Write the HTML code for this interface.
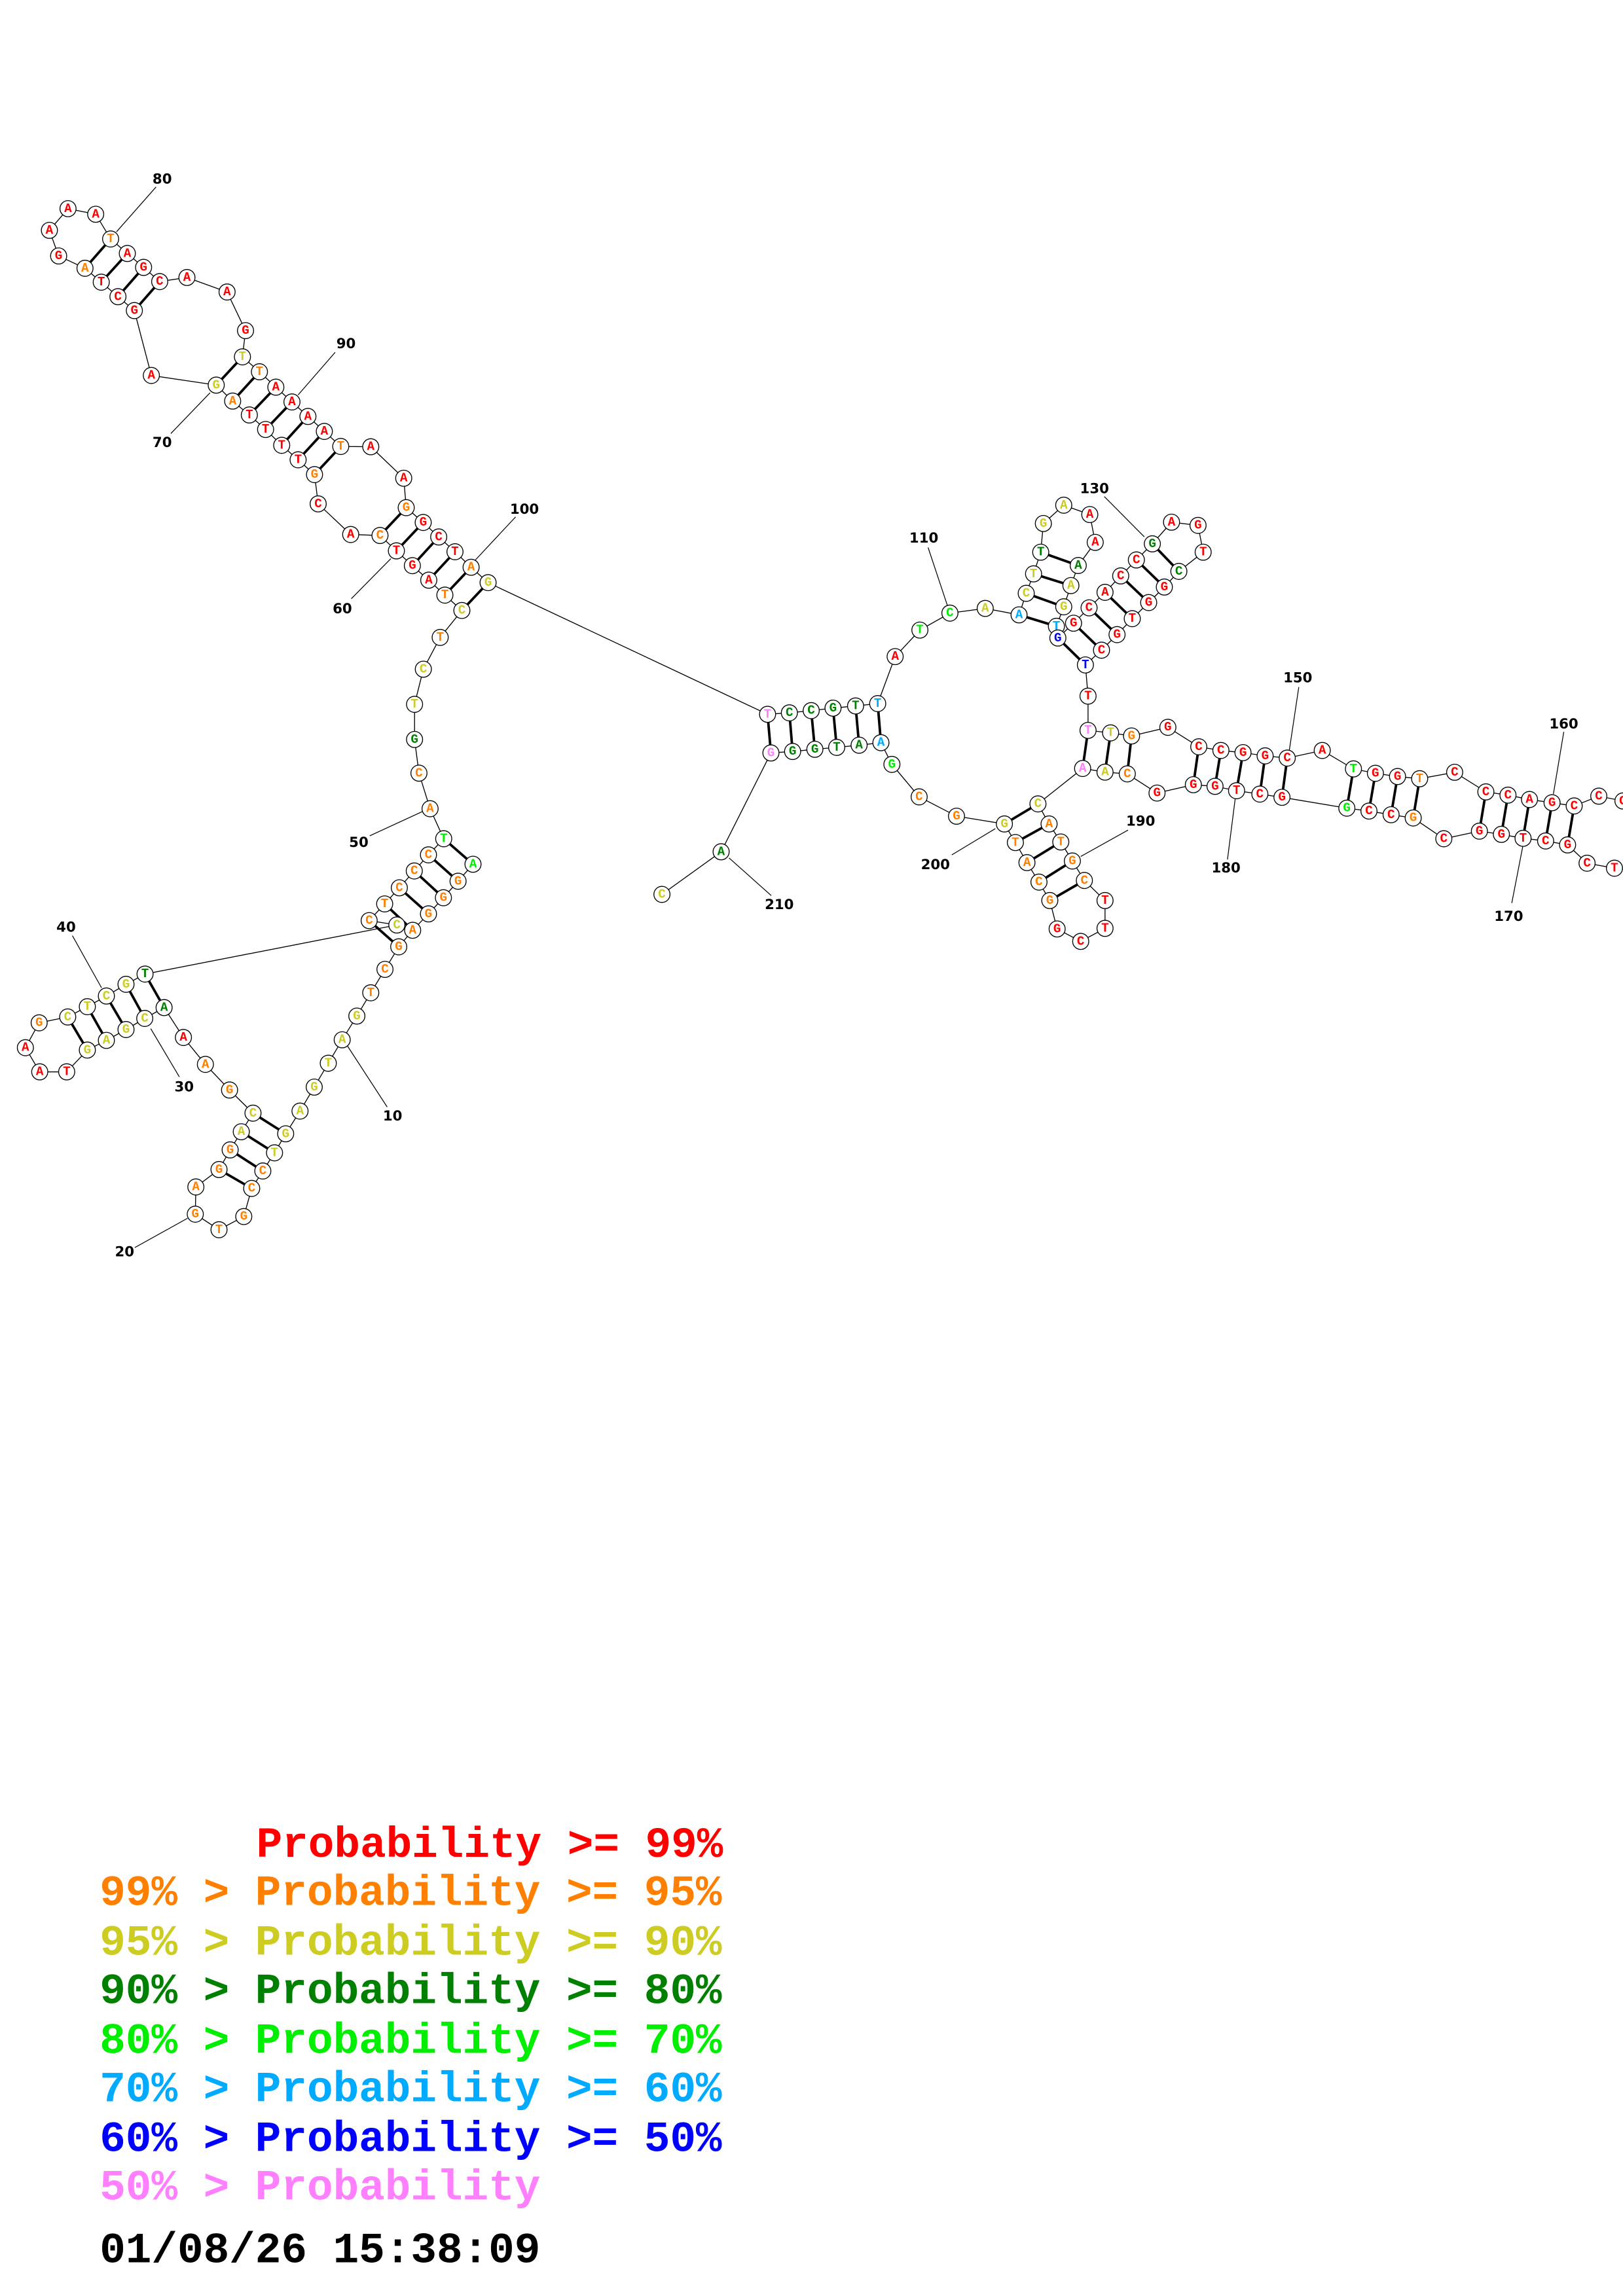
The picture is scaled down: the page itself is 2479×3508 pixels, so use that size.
<!DOCTYPE html>
<html><head><meta charset="utf-8"><style>
html,body{margin:0;padding:0;background:#fff}
svg{display:block}
.bb{fill:none;stroke:#000;stroke-width:0.6}
.pr{stroke:#000;stroke-width:1.7}
.ln{stroke:#000;stroke-width:0.55}
circle{fill:#fff;stroke:#000;stroke-width:0.6}
.n text{font-family:"Liberation Mono","DejaVu Sans Mono",monospace;font-weight:bold;font-size:8.6px;text-anchor:middle;dominant-baseline:central}
.lb{font-family:"DejaVu Sans","Liberation Sans",sans-serif;font-weight:bold;font-size:9.5px;text-anchor:middle;dominant-baseline:central}
.r{fill:#ff0000}.o{fill:#ff8000}.y{fill:#cccc22}.d{fill:#008000}.g{fill:#00ee00}.c{fill:#00aaff}.b{fill:#0000ff}.p{fill:#ff80ff}
.lg{font-family:"Liberation Mono","DejaVu Sans Mono",monospace;font-weight:bold;font-size:29.5px}
</style></head><body>
<svg width="2479" height="3508" viewBox="0 0 1108 1568" xmlns="http://www.w3.org/2000/svg">
<polyline class="bb" points="322.9,590.2 312.7,601.8 302.7,613.1 292.5,624.1 281.7,635.3 272.2,646.6 262.8,662 253.1,678 243.6,693.9 233.6,710.1 224.1,726.1 214.5,742.4 204.8,758.8 195,774.3 187.4,787.3 179.4,799.7 171.8,811.6 166.4,830.8 149.5,839.8 133.3,829.2 133.7,810.6 149.5,798.7 157.1,785.3 164.7,772.9 172.7,760.2 156.7,744.4 140.2,726.9 125.2,708.5 112,688.1 98.8,695.5 86,703.1 72.6,710.5 59.6,717.1 45.5,732 27.1,732 17.3,715.5 26.7,698.5 46.2,694.5 59.6,687.5 72.6,680.2 86,672.2 99,665.2 270.9,631.7 252,628.7 262.6,617.3 272.6,606.3 282.8,594.8 292.5,583.8 302.9,572.8 293.6,552.3 286,528 283,505 283,481 289,457 300.5,435.3 315.3,416.9 303.7,406.4 292.7,396.2 281.5,386.3 270.6,376.2 259.4,365.7 239.4,365 217.2,344.1 214.7,324.1 203.5,314 192.3,304.1 181.3,293.3 170.2,283.4 158.8,273.9 147.6,263 103.3,256.4 91.7,212.1 80.5,202.6 69.1,192.7 58,183.2 40,174.8 33.7,157.3 46.4,142.5 65.3,146.3 75.5,163.2 86.9,173.1 98,182.6 109,192.3 127.6,189.5 155,199.4 167.6,225.8 165.5,243.7 177.1,253.9 188.3,264.4 199.3,274.5 210.2,284.4 221.4,294.6 232.6,304.9 253.1,305.1 275.6,326.6 277.3,346.7 288.9,356.8 299.5,366.7 310.6,376.8 321.6,387.4 333.2,397.9 524,487.8 538.9,486.8 553.8,485.3 568.7,483.6 584.1,482.1 599.2,480.5 611.1,448.4 628,430.3 648.5,418.7 672.6,415.5 695.7,419.9 700.6,405.2 705.6,391.9 710.5,377.1 712.3,357.5 726.2,345 744,351.4 747.7,370.4 736.1,386.2 731.1,399.9 726.2,414.4 721.2,427.7 722.2,435.7 732.9,425.6 743.5,415.1 754.4,404.5 765.1,393.3 775.8,382.4 786.7,371.4 799.8,356.6 817.9,358.8 821.4,377.1 804.8,390.2 794.9,400.9 784.2,411.5 773,422.5 762.6,433.4 752,444 741,454.1 742.8,475.4 742.8,498.8 758.2,500.5 772.5,502.6 797.3,496.7 818.4,510 833.5,512.5 848.6,514 863.7,516.2 878.8,517.7 902.7,512.5 924,525.1 939,528.1 954.1,530.3 969.2,531.8 993.1,527.4 1014.4,540.8 1029.5,543 1044.2,546 1059.6,548.2 1074.7,550.4 1091.5,543.7 1108,547 1130,550 1130,596 1102.2,592.9 1083.5,589.5 1070.2,577 1055.2,574.3 1039.8,572.5 1025,569.8 1010,567.6 985.7,572.8 964.8,558.6 949.7,556.4 934.6,553.9 919.5,551.9 875.2,544.5 860.1,542.3 844.2,540 829.5,537 814.7,535.9 789.9,541.6 769.6,528.5 754.4,527.3 739.1,524.8 708.6,549 716.2,562.7 724.2,575 732.1,588 740.3,601.3 754.4,615 754.4,634 737.8,642.9 721.7,634.4 716.7,615 709.3,602.4 701.1,589.1 693.2,575.4 685.7,562.7 653,557.4 627.5,544.2 608.9,522 601.4,507.2 586.5,508.9 571.2,510.4 556.3,511.7 541.1,513.2 526.3,514.2 492.3,581.7 451.9,610.8"/>
<g class="pr">
<line x1="302.9" y1="572.8" x2="322.9" y2="590.2"/><line x1="292.5" y1="583.8" x2="312.7" y2="601.8"/><line x1="282.8" y1="594.8" x2="302.7" y2="613.1"/><line x1="272.6" y1="606.3" x2="292.5" y2="624.1"/><line x1="262.6" y1="617.3" x2="281.7" y2="635.3"/><line x1="252" y1="628.7" x2="272.2" y2="646.6"/>
<line x1="172.7" y1="760.2" x2="195" y2="774.3"/><line x1="164.7" y1="772.9" x2="187.4" y2="787.3"/><line x1="157.1" y1="785.3" x2="179.4" y2="799.7"/><line x1="149.5" y1="798.7" x2="171.8" y2="811.6"/>
<line x1="99" y1="665.2" x2="112" y2="688.1"/><line x1="86" y1="672.2" x2="98.8" y2="695.5"/><line x1="72.6" y1="680.2" x2="86" y2="703.1"/><line x1="59.6" y1="687.5" x2="72.6" y2="710.5"/><line x1="46.2" y1="694.5" x2="59.6" y2="717.1"/>
<line x1="75.5" y1="163.2" x2="58" y2="183.2"/><line x1="86.9" y1="173.1" x2="69.1" y2="192.7"/><line x1="98" y1="182.6" x2="80.5" y2="202.6"/><line x1="109" y1="192.3" x2="91.7" y2="212.1"/>
<line x1="165.5" y1="243.7" x2="147.6" y2="263"/><line x1="177.1" y1="253.9" x2="158.8" y2="273.9"/><line x1="188.3" y1="264.4" x2="170.2" y2="283.4"/><line x1="199.3" y1="274.5" x2="181.3" y2="293.3"/><line x1="210.2" y1="284.4" x2="192.3" y2="304.1"/><line x1="221.4" y1="294.6" x2="203.5" y2="314"/><line x1="232.6" y1="304.9" x2="214.7" y2="324.1"/>
<line x1="277.3" y1="346.7" x2="259.4" y2="365.7"/><line x1="288.9" y1="356.8" x2="270.6" y2="376.2"/><line x1="299.5" y1="366.7" x2="281.5" y2="386.3"/><line x1="310.6" y1="376.8" x2="292.7" y2="396.2"/><line x1="321.6" y1="387.4" x2="303.7" y2="406.4"/><line x1="333.2" y1="397.9" x2="315.3" y2="416.9"/>
<line x1="524" y1="487.8" x2="526.3" y2="514.2"/><line x1="538.9" y1="486.8" x2="541.1" y2="513.2"/><line x1="553.8" y1="485.3" x2="556.3" y2="511.7"/><line x1="568.7" y1="483.6" x2="571.2" y2="510.4"/><line x1="584.1" y1="482.1" x2="586.5" y2="508.9"/><line x1="599.2" y1="480.5" x2="601.4" y2="507.2"/>
<line x1="695.7" y1="419.9" x2="721.2" y2="427.7"/><line x1="700.6" y1="405.2" x2="726.2" y2="414.4"/><line x1="705.6" y1="391.9" x2="731.1" y2="399.9"/><line x1="710.5" y1="377.1" x2="736.1" y2="386.2"/>
<line x1="722.2" y1="435.7" x2="741" y2="454.1"/><line x1="732.9" y1="425.6" x2="752" y2="444"/><line x1="743.5" y1="415.1" x2="762.6" y2="433.4"/><line x1="754.4" y1="404.5" x2="773" y2="422.5"/><line x1="765.1" y1="393.3" x2="784.2" y2="411.5"/><line x1="775.8" y1="382.4" x2="794.9" y2="400.9"/><line x1="786.7" y1="371.4" x2="804.8" y2="390.2"/>
<line x1="742.8" y1="498.8" x2="739.1" y2="524.8"/><line x1="758.2" y1="500.5" x2="754.4" y2="527.3"/><line x1="772.5" y1="502.6" x2="769.6" y2="528.5"/>
<line x1="818.4" y1="510" x2="814.7" y2="535.9"/><line x1="833.5" y1="512.5" x2="829.5" y2="537"/><line x1="848.6" y1="514" x2="844.2" y2="540"/><line x1="863.7" y1="516.2" x2="860.1" y2="542.3"/><line x1="878.8" y1="517.7" x2="875.2" y2="544.5"/>
<line x1="924" y1="525.1" x2="919.5" y2="551.9"/><line x1="939" y1="528.1" x2="934.6" y2="553.9"/><line x1="954.1" y1="530.3" x2="949.7" y2="556.4"/><line x1="969.2" y1="531.8" x2="964.8" y2="558.6"/>
<line x1="1014.4" y1="540.8" x2="1010" y2="567.6"/><line x1="1029.5" y1="543" x2="1025" y2="569.8"/><line x1="1044.2" y1="546" x2="1039.8" y2="572.5"/><line x1="1059.6" y1="548.2" x2="1055.2" y2="574.3"/><line x1="1074.7" y1="550.4" x2="1070.2" y2="577"/>
<line x1="708.6" y1="549" x2="685.7" y2="562.7"/><line x1="716.2" y1="562.7" x2="693.2" y2="575.4"/><line x1="724.2" y1="575" x2="701.1" y2="589.1"/><line x1="732.1" y1="588" x2="709.3" y2="602.4"/><line x1="740.3" y1="601.3" x2="716.7" y2="615"/>
</g>
<g class="ln">
<line x1="264.3" y1="756" x2="237.3" y2="714.5"/><line x1="92" y1="852" x2="128" y2="832"/><line x1="122.4" y1="735.4" x2="102.9" y2="702.5"/><line x1="49.4" y1="639" x2="69.3" y2="674.6"/><line x1="252.4" y1="570.8" x2="288.2" y2="554.3"/><line x1="239.8" y1="408.9" x2="266.8" y2="381.5"/><line x1="116.6" y1="296.1" x2="143.4" y2="268.2"/><line x1="106.5" y1="127.7" x2="79.5" y2="158.3"/><line x1="228.8" y1="240.6" x2="203.5" y2="269.7"/><line x1="352" y1="353" x2="324" y2="383"/><line x1="633.6" y1="373.9" x2="646.8" y2="413.6"/><line x1="753.9" y1="339.1" x2="781.2" y2="366.6"/><line x1="886.7" y1="469.2" x2="880.2" y2="512.5"/><line x1="1067.6" y1="499.8" x2="1060.5" y2="542.3"/><line x1="1032.1" y1="616.7" x2="1039.8" y2="577"/><line x1="843.3" y1="545.2" x2="838" y2="587"/><line x1="770.1" y1="566.9" x2="737.8" y2="584.9"/><line x1="649.8" y1="583.8" x2="679.5" y2="565.9"/><line x1="526.5" y1="611.6" x2="497.7" y2="585.9"/>
</g>
<g class="lb">
<text x="268" y="762.4">10</text><text x="85" y="855">20</text><text x="125.7" y="742.4">30</text><text x="45.1" y="633.3">40</text><text x="244.9" y="575.4">50</text><text x="233.7" y="415.9">60</text><text x="110.7" y="302.4">70</text><text x="110.7" y="122.5">80</text><text x="236.2" y="234.9">90</text><text x="358" y="348">100</text><text x="630.7" y="367.6">110</text><text x="747.2" y="333.9">130</text><text x="886" y="463">150</text><text x="1067.6" y="494.6">160</text><text x="1030" y="626">170</text><text x="837" y="593">180</text><text x="778.7" y="561">190</text><text x="638.6" y="590.6">200</text><text x="532" y="618">210</text>
</g>
<g class="n">
<circle cx="322.9" cy="590.2" r="5.5"/><text x="322.9" y="590.2" class="g">A</text>
<circle cx="312.7" cy="601.8" r="5.5"/><text x="312.7" y="601.8" class="o">G</text>
<circle cx="302.7" cy="613.1" r="5.5"/><text x="302.7" y="613.1" class="o">G</text>
<circle cx="292.5" cy="624.1" r="5.5"/><text x="292.5" y="624.1" class="o">G</text>
<circle cx="281.7" cy="635.3" r="5.5"/><text x="281.7" y="635.3" class="o">A</text>
<circle cx="272.2" cy="646.6" r="5.5"/><text x="272.2" y="646.6" class="o">G</text>
<circle cx="262.8" cy="662" r="5.5"/><text x="262.8" y="662" class="o">C</text>
<circle cx="253.1" cy="678" r="5.5"/><text x="253.1" y="678" class="o">T</text>
<circle cx="243.6" cy="693.9" r="5.5"/><text x="243.6" y="693.9" class="y">G</text>
<circle cx="233.6" cy="710.1" r="5.5"/><text x="233.6" y="710.1" class="y">A</text>
<circle cx="224.1" cy="726.1" r="5.5"/><text x="224.1" y="726.1" class="y">T</text>
<circle cx="214.5" cy="742.4" r="5.5"/><text x="214.5" y="742.4" class="y">G</text>
<circle cx="204.8" cy="758.8" r="5.5"/><text x="204.8" y="758.8" class="y">A</text>
<circle cx="195" cy="774.3" r="5.5"/><text x="195" y="774.3" class="y">G</text>
<circle cx="187.4" cy="787.3" r="5.5"/><text x="187.4" y="787.3" class="y">T</text>
<circle cx="179.4" cy="799.7" r="5.5"/><text x="179.4" y="799.7" class="o">C</text>
<circle cx="171.8" cy="811.6" r="5.5"/><text x="171.8" y="811.6" class="o">C</text>
<circle cx="166.4" cy="830.8" r="5.5"/><text x="166.4" y="830.8" class="o">G</text>
<circle cx="149.5" cy="839.8" r="5.5"/><text x="149.5" y="839.8" class="o">T</text>
<circle cx="133.3" cy="829.2" r="5.5"/><text x="133.3" y="829.2" class="o">G</text>
<circle cx="133.7" cy="810.6" r="5.5"/><text x="133.7" y="810.6" class="o">A</text>
<circle cx="149.5" cy="798.7" r="5.5"/><text x="149.5" y="798.7" class="o">G</text>
<circle cx="157.1" cy="785.3" r="5.5"/><text x="157.1" y="785.3" class="o">G</text>
<circle cx="164.7" cy="772.9" r="5.5"/><text x="164.7" y="772.9" class="y">A</text>
<circle cx="172.7" cy="760.2" r="5.5"/><text x="172.7" y="760.2" class="y">C</text>
<circle cx="156.7" cy="744.4" r="5.5"/><text x="156.7" y="744.4" class="o">G</text>
<circle cx="140.2" cy="726.9" r="5.5"/><text x="140.2" y="726.9" class="o">A</text>
<circle cx="125.2" cy="708.5" r="5.5"/><text x="125.2" y="708.5" class="r">A</text>
<circle cx="112" cy="688.1" r="5.5"/><text x="112" y="688.1" class="d">A</text>
<circle cx="98.8" cy="695.5" r="5.5"/><text x="98.8" y="695.5" class="y">C</text>
<circle cx="86" cy="703.1" r="5.5"/><text x="86" y="703.1" class="y">G</text>
<circle cx="72.6" cy="710.5" r="5.5"/><text x="72.6" y="710.5" class="y">A</text>
<circle cx="59.6" cy="717.1" r="5.5"/><text x="59.6" y="717.1" class="y">G</text>
<circle cx="45.5" cy="732" r="5.5"/><text x="45.5" y="732" class="r">T</text>
<circle cx="27.1" cy="732" r="5.5"/><text x="27.1" y="732" class="r">A</text>
<circle cx="17.3" cy="715.5" r="5.5"/><text x="17.3" y="715.5" class="r">A</text>
<circle cx="26.7" cy="698.5" r="5.5"/><text x="26.7" y="698.5" class="o">G</text>
<circle cx="46.2" cy="694.5" r="5.5"/><text x="46.2" y="694.5" class="y">C</text>
<circle cx="59.6" cy="687.5" r="5.5"/><text x="59.6" y="687.5" class="y">T</text>
<circle cx="72.6" cy="680.2" r="5.5"/><text x="72.6" y="680.2" class="y">C</text>
<circle cx="86" cy="672.2" r="5.5"/><text x="86" y="672.2" class="y">G</text>
<circle cx="99" cy="665.2" r="5.5"/><text x="99" y="665.2" class="d">T</text>
<circle cx="270.9" cy="631.7" r="5.5"/><text x="270.9" y="631.7" class="y">C</text>
<circle cx="252" cy="628.7" r="5.5"/><text x="252" y="628.7" class="o">C</text>
<circle cx="262.6" cy="617.3" r="5.5"/><text x="262.6" y="617.3" class="o">T</text>
<circle cx="272.6" cy="606.3" r="5.5"/><text x="272.6" y="606.3" class="o">C</text>
<circle cx="282.8" cy="594.8" r="5.5"/><text x="282.8" y="594.8" class="o">C</text>
<circle cx="292.5" cy="583.8" r="5.5"/><text x="292.5" y="583.8" class="o">C</text>
<circle cx="302.9" cy="572.8" r="5.5"/><text x="302.9" y="572.8" class="g">T</text>
<circle cx="293.6" cy="552.3" r="5.5"/><text x="293.6" y="552.3" class="o">A</text>
<circle cx="286" cy="528" r="5.5"/><text x="286" y="528" class="o">C</text>
<circle cx="283" cy="505" r="5.5"/><text x="283" y="505" class="d">G</text>
<circle cx="283" cy="481" r="5.5"/><text x="283" y="481" class="y">T</text>
<circle cx="289" cy="457" r="5.5"/><text x="289" y="457" class="y">C</text>
<circle cx="300.5" cy="435.3" r="5.5"/><text x="300.5" y="435.3" class="o">T</text>
<circle cx="315.3" cy="416.9" r="5.5"/><text x="315.3" y="416.9" class="y">C</text>
<circle cx="303.7" cy="406.4" r="5.5"/><text x="303.7" y="406.4" class="o">T</text>
<circle cx="292.7" cy="396.2" r="5.5"/><text x="292.7" y="396.2" class="r">A</text>
<circle cx="281.5" cy="386.3" r="5.5"/><text x="281.5" y="386.3" class="r">G</text>
<circle cx="270.6" cy="376.2" r="5.5"/><text x="270.6" y="376.2" class="r">T</text>
<circle cx="259.4" cy="365.7" r="5.5"/><text x="259.4" y="365.7" class="o">C</text>
<circle cx="239.4" cy="365" r="5.5"/><text x="239.4" y="365" class="r">A</text>
<circle cx="217.2" cy="344.1" r="5.5"/><text x="217.2" y="344.1" class="r">C</text>
<circle cx="214.7" cy="324.1" r="5.5"/><text x="214.7" y="324.1" class="o">G</text>
<circle cx="203.5" cy="314" r="5.5"/><text x="203.5" y="314" class="r">T</text>
<circle cx="192.3" cy="304.1" r="5.5"/><text x="192.3" y="304.1" class="r">T</text>
<circle cx="181.3" cy="293.3" r="5.5"/><text x="181.3" y="293.3" class="r">T</text>
<circle cx="170.2" cy="283.4" r="5.5"/><text x="170.2" y="283.4" class="r">T</text>
<circle cx="158.8" cy="273.9" r="5.5"/><text x="158.8" y="273.9" class="o">A</text>
<circle cx="147.6" cy="263" r="5.5"/><text x="147.6" y="263" class="y">G</text>
<circle cx="103.3" cy="256.4" r="5.5"/><text x="103.3" y="256.4" class="r">A</text>
<circle cx="91.7" cy="212.1" r="5.5"/><text x="91.7" y="212.1" class="r">G</text>
<circle cx="80.5" cy="202.6" r="5.5"/><text x="80.5" y="202.6" class="r">C</text>
<circle cx="69.1" cy="192.7" r="5.5"/><text x="69.1" y="192.7" class="r">T</text>
<circle cx="58" cy="183.2" r="5.5"/><text x="58" y="183.2" class="o">A</text>
<circle cx="40" cy="174.8" r="5.5"/><text x="40" y="174.8" class="r">G</text>
<circle cx="33.7" cy="157.3" r="5.5"/><text x="33.7" y="157.3" class="r">A</text>
<circle cx="46.4" cy="142.5" r="5.5"/><text x="46.4" y="142.5" class="r">A</text>
<circle cx="65.3" cy="146.3" r="5.5"/><text x="65.3" y="146.3" class="r">A</text>
<circle cx="75.5" cy="163.2" r="5.5"/><text x="75.5" y="163.2" class="o">T</text>
<circle cx="86.9" cy="173.1" r="5.5"/><text x="86.9" y="173.1" class="r">A</text>
<circle cx="98" cy="182.6" r="5.5"/><text x="98" y="182.6" class="r">G</text>
<circle cx="109" cy="192.3" r="5.5"/><text x="109" y="192.3" class="r">C</text>
<circle cx="127.6" cy="189.5" r="5.5"/><text x="127.6" y="189.5" class="r">A</text>
<circle cx="155" cy="199.4" r="5.5"/><text x="155" y="199.4" class="r">A</text>
<circle cx="167.6" cy="225.8" r="5.5"/><text x="167.6" y="225.8" class="r">G</text>
<circle cx="165.5" cy="243.7" r="5.5"/><text x="165.5" y="243.7" class="y">T</text>
<circle cx="177.1" cy="253.9" r="5.5"/><text x="177.1" y="253.9" class="o">T</text>
<circle cx="188.3" cy="264.4" r="5.5"/><text x="188.3" y="264.4" class="r">A</text>
<circle cx="199.3" cy="274.5" r="5.5"/><text x="199.3" y="274.5" class="r">A</text>
<circle cx="210.2" cy="284.4" r="5.5"/><text x="210.2" y="284.4" class="r">A</text>
<circle cx="221.4" cy="294.6" r="5.5"/><text x="221.4" y="294.6" class="r">A</text>
<circle cx="232.6" cy="304.9" r="5.5"/><text x="232.6" y="304.9" class="o">T</text>
<circle cx="253.1" cy="305.1" r="5.5"/><text x="253.1" y="305.1" class="r">A</text>
<circle cx="275.6" cy="326.6" r="5.5"/><text x="275.6" y="326.6" class="r">A</text>
<circle cx="277.3" cy="346.7" r="5.5"/><text x="277.3" y="346.7" class="o">G</text>
<circle cx="288.9" cy="356.8" r="5.5"/><text x="288.9" y="356.8" class="r">G</text>
<circle cx="299.5" cy="366.7" r="5.5"/><text x="299.5" y="366.7" class="r">C</text>
<circle cx="310.6" cy="376.8" r="5.5"/><text x="310.6" y="376.8" class="r">T</text>
<circle cx="321.6" cy="387.4" r="5.5"/><text x="321.6" y="387.4" class="o">A</text>
<circle cx="333.2" cy="397.9" r="5.5"/><text x="333.2" y="397.9" class="y">G</text>
<circle cx="524" cy="487.8" r="5.5"/><text x="524" y="487.8" class="p">T</text>
<circle cx="538.9" cy="486.8" r="5.5"/><text x="538.9" y="486.8" class="d">C</text>
<circle cx="553.8" cy="485.3" r="5.5"/><text x="553.8" y="485.3" class="d">C</text>
<circle cx="568.7" cy="483.6" r="5.5"/><text x="568.7" y="483.6" class="d">G</text>
<circle cx="584.1" cy="482.1" r="5.5"/><text x="584.1" y="482.1" class="d">T</text>
<circle cx="599.2" cy="480.5" r="5.5"/><text x="599.2" y="480.5" class="c">T</text>
<circle cx="611.1" cy="448.4" r="5.5"/><text x="611.1" y="448.4" class="r">A</text>
<circle cx="628" cy="430.3" r="5.5"/><text x="628" y="430.3" class="g">T</text>
<circle cx="648.5" cy="418.7" r="5.5"/><text x="648.5" y="418.7" class="g">C</text>
<circle cx="672.6" cy="415.5" r="5.5"/><text x="672.6" y="415.5" class="y">A</text>
<circle cx="695.7" cy="419.9" r="5.5"/><text x="695.7" y="419.9" class="c">A</text>
<circle cx="700.6" cy="405.2" r="5.5"/><text x="700.6" y="405.2" class="y">C</text>
<circle cx="705.6" cy="391.9" r="5.5"/><text x="705.6" y="391.9" class="y">T</text>
<circle cx="710.5" cy="377.1" r="5.5"/><text x="710.5" y="377.1" class="d">T</text>
<circle cx="712.3" cy="357.5" r="5.5"/><text x="712.3" y="357.5" class="y">G</text>
<circle cx="726.2" cy="345" r="5.5"/><text x="726.2" y="345" class="y">A</text>
<circle cx="744" cy="351.4" r="5.5"/><text x="744" y="351.4" class="r">A</text>
<circle cx="747.7" cy="370.4" r="5.5"/><text x="747.7" y="370.4" class="r">A</text>
<circle cx="736.1" cy="386.2" r="5.5"/><text x="736.1" y="386.2" class="d">A</text>
<circle cx="731.1" cy="399.9" r="5.5"/><text x="731.1" y="399.9" class="y">A</text>
<circle cx="726.2" cy="414.4" r="5.5"/><text x="726.2" y="414.4" class="y">G</text>
<circle cx="721.2" cy="427.7" r="5.5"/><text x="721.2" y="427.7" class="c">T</text>
<circle cx="722.2" cy="435.7" r="5.5"/><text x="722.2" y="435.7" class="b">G</text>
<circle cx="732.9" cy="425.6" r="5.5"/><text x="732.9" y="425.6" class="r">G</text>
<circle cx="743.5" cy="415.1" r="5.5"/><text x="743.5" y="415.1" class="r">C</text>
<circle cx="754.4" cy="404.5" r="5.5"/><text x="754.4" y="404.5" class="r">A</text>
<circle cx="765.1" cy="393.3" r="5.5"/><text x="765.1" y="393.3" class="r">C</text>
<circle cx="775.8" cy="382.4" r="5.5"/><text x="775.8" y="382.4" class="r">C</text>
<circle cx="786.7" cy="371.4" r="5.5"/><text x="786.7" y="371.4" class="d">G</text>
<circle cx="799.8" cy="356.6" r="5.5"/><text x="799.8" y="356.6" class="r">A</text>
<circle cx="817.9" cy="358.8" r="5.5"/><text x="817.9" y="358.8" class="r">G</text>
<circle cx="821.4" cy="377.1" r="5.5"/><text x="821.4" y="377.1" class="r">T</text>
<circle cx="804.8" cy="390.2" r="5.5"/><text x="804.8" y="390.2" class="d">C</text>
<circle cx="794.9" cy="400.9" r="5.5"/><text x="794.9" y="400.9" class="r">G</text>
<circle cx="784.2" cy="411.5" r="5.5"/><text x="784.2" y="411.5" class="r">G</text>
<circle cx="773" cy="422.5" r="5.5"/><text x="773" y="422.5" class="r">T</text>
<circle cx="762.6" cy="433.4" r="5.5"/><text x="762.6" y="433.4" class="r">G</text>
<circle cx="752" cy="444" r="5.5"/><text x="752" y="444" class="r">C</text>
<circle cx="741" cy="454.1" r="5.5"/><text x="741" y="454.1" class="b">T</text>
<circle cx="742.8" cy="475.4" r="5.5"/><text x="742.8" y="475.4" class="r">T</text>
<circle cx="742.8" cy="498.8" r="5.5"/><text x="742.8" y="498.8" class="p">T</text>
<circle cx="758.2" cy="500.5" r="5.5"/><text x="758.2" y="500.5" class="y">T</text>
<circle cx="772.5" cy="502.6" r="5.5"/><text x="772.5" y="502.6" class="o">G</text>
<circle cx="797.3" cy="496.7" r="5.5"/><text x="797.3" y="496.7" class="r">G</text>
<circle cx="818.4" cy="510" r="5.5"/><text x="818.4" y="510" class="r">C</text>
<circle cx="833.5" cy="512.5" r="5.5"/><text x="833.5" y="512.5" class="r">C</text>
<circle cx="848.6" cy="514" r="5.5"/><text x="848.6" y="514" class="r">G</text>
<circle cx="863.7" cy="516.2" r="5.5"/><text x="863.7" y="516.2" class="r">G</text>
<circle cx="878.8" cy="517.7" r="5.5"/><text x="878.8" y="517.7" class="r">C</text>
<circle cx="902.7" cy="512.5" r="5.5"/><text x="902.7" y="512.5" class="r">A</text>
<circle cx="924" cy="525.1" r="5.5"/><text x="924" y="525.1" class="g">T</text>
<circle cx="939" cy="528.1" r="5.5"/><text x="939" y="528.1" class="r">G</text>
<circle cx="954.1" cy="530.3" r="5.5"/><text x="954.1" y="530.3" class="r">G</text>
<circle cx="969.2" cy="531.8" r="5.5"/><text x="969.2" y="531.8" class="o">T</text>
<circle cx="993.1" cy="527.4" r="5.5"/><text x="993.1" y="527.4" class="r">C</text>
<circle cx="1014.4" cy="540.8" r="5.5"/><text x="1014.4" y="540.8" class="r">C</text>
<circle cx="1029.5" cy="543" r="5.5"/><text x="1029.5" y="543" class="r">C</text>
<circle cx="1044.2" cy="546" r="5.5"/><text x="1044.2" y="546" class="r">A</text>
<circle cx="1059.6" cy="548.2" r="5.5"/><text x="1059.6" y="548.2" class="r">G</text>
<circle cx="1074.7" cy="550.4" r="5.5"/><text x="1074.7" y="550.4" class="r">C</text>
<circle cx="1091.5" cy="543.7" r="5.5"/><text x="1091.5" y="543.7" class="r">C</text>
<circle cx="1108" cy="547" r="5.5"/><text x="1108" y="547" class="r">C</text>
<circle cx="1102.2" cy="592.9" r="5.5"/><text x="1102.2" y="592.9" class="r">T</text>
<circle cx="1083.5" cy="589.5" r="5.5"/><text x="1083.5" y="589.5" class="r">C</text>
<circle cx="1070.2" cy="577" r="5.5"/><text x="1070.2" y="577" class="r">G</text>
<circle cx="1055.2" cy="574.3" r="5.5"/><text x="1055.2" y="574.3" class="r">C</text>
<circle cx="1039.8" cy="572.5" r="5.5"/><text x="1039.8" y="572.5" class="r">T</text>
<circle cx="1025" cy="569.8" r="5.5"/><text x="1025" y="569.8" class="r">G</text>
<circle cx="1010" cy="567.6" r="5.5"/><text x="1010" y="567.6" class="r">G</text>
<circle cx="985.7" cy="572.8" r="5.5"/><text x="985.7" y="572.8" class="r">C</text>
<circle cx="964.8" cy="558.6" r="5.5"/><text x="964.8" y="558.6" class="o">G</text>
<circle cx="949.7" cy="556.4" r="5.5"/><text x="949.7" y="556.4" class="r">C</text>
<circle cx="934.6" cy="553.9" r="5.5"/><text x="934.6" y="553.9" class="r">C</text>
<circle cx="919.5" cy="551.9" r="5.5"/><text x="919.5" y="551.9" class="g">G</text>
<circle cx="875.2" cy="544.5" r="5.5"/><text x="875.2" y="544.5" class="r">G</text>
<circle cx="860.1" cy="542.3" r="5.5"/><text x="860.1" y="542.3" class="r">C</text>
<circle cx="844.2" cy="540" r="5.5"/><text x="844.2" y="540" class="r">T</text>
<circle cx="829.5" cy="537" r="5.5"/><text x="829.5" y="537" class="r">G</text>
<circle cx="814.7" cy="535.9" r="5.5"/><text x="814.7" y="535.9" class="r">G</text>
<circle cx="789.9" cy="541.6" r="5.5"/><text x="789.9" y="541.6" class="r">G</text>
<circle cx="769.6" cy="528.5" r="5.5"/><text x="769.6" y="528.5" class="o">C</text>
<circle cx="754.4" cy="527.3" r="5.5"/><text x="754.4" y="527.3" class="y">A</text>
<circle cx="739.1" cy="524.8" r="5.5"/><text x="739.1" y="524.8" class="p">A</text>
<circle cx="708.6" cy="549" r="5.5"/><text x="708.6" y="549" class="y">C</text>
<circle cx="716.2" cy="562.7" r="5.5"/><text x="716.2" y="562.7" class="o">A</text>
<circle cx="724.2" cy="575" r="5.5"/><text x="724.2" y="575" class="o">T</text>
<circle cx="732.1" cy="588" r="5.5"/><text x="732.1" y="588" class="o">G</text>
<circle cx="740.3" cy="601.3" r="5.5"/><text x="740.3" y="601.3" class="o">C</text>
<circle cx="754.4" cy="615" r="5.5"/><text x="754.4" y="615" class="r">T</text>
<circle cx="754.4" cy="634" r="5.5"/><text x="754.4" y="634" class="r">T</text>
<circle cx="737.8" cy="642.9" r="5.5"/><text x="737.8" y="642.9" class="r">C</text>
<circle cx="721.7" cy="634.4" r="5.5"/><text x="721.7" y="634.4" class="r">G</text>
<circle cx="716.7" cy="615" r="5.5"/><text x="716.7" y="615" class="o">G</text>
<circle cx="709.3" cy="602.4" r="5.5"/><text x="709.3" y="602.4" class="o">C</text>
<circle cx="701.1" cy="589.1" r="5.5"/><text x="701.1" y="589.1" class="o">A</text>
<circle cx="693.2" cy="575.4" r="5.5"/><text x="693.2" y="575.4" class="o">T</text>
<circle cx="685.7" cy="562.7" r="5.5"/><text x="685.7" y="562.7" class="y">G</text>
<circle cx="653" cy="557.4" r="5.5"/><text x="653" y="557.4" class="o">G</text>
<circle cx="627.5" cy="544.2" r="5.5"/><text x="627.5" y="544.2" class="o">C</text>
<circle cx="608.9" cy="522" r="5.5"/><text x="608.9" y="522" class="g">G</text>
<circle cx="601.4" cy="507.2" r="5.5"/><text x="601.4" y="507.2" class="c">A</text>
<circle cx="586.5" cy="508.9" r="5.5"/><text x="586.5" y="508.9" class="d">A</text>
<circle cx="571.2" cy="510.4" r="5.5"/><text x="571.2" y="510.4" class="d">T</text>
<circle cx="556.3" cy="511.7" r="5.5"/><text x="556.3" y="511.7" class="d">G</text>
<circle cx="541.1" cy="513.2" r="5.5"/><text x="541.1" y="513.2" class="d">G</text>
<circle cx="526.3" cy="514.2" r="5.5"/><text x="526.3" y="514.2" class="p">G</text>
<circle cx="492.3" cy="581.7" r="5.5"/><text x="492.3" y="581.7" class="d">A</text>
<circle cx="451.9" cy="610.8" r="5.5"/><text x="451.9" y="610.8" class="y">C</text>
</g>
<g class="lg">
<text x="175" y="1268" class="r">Probability &gt;= 99%</text>
<text x="68" y="1301" class="o">99% &gt; Probability &gt;= 95%</text>
<text x="68" y="1335" class="y">95% &gt; Probability &gt;= 90%</text>
<text x="68" y="1368" class="d">90% &gt; Probability &gt;= 80%</text>
<text x="68" y="1402" class="g">80% &gt; Probability &gt;= 70%</text>
<text x="68" y="1435" class="c">70% &gt; Probability &gt;= 60%</text>
<text x="68" y="1469" class="b">60% &gt; Probability &gt;= 50%</text>
<text x="68" y="1502" class="p">50% &gt; Probability</text>
<text x="68" y="1545" fill="#000">01/08/26 15:38:09</text>
</g>
</svg>
</body></html>
